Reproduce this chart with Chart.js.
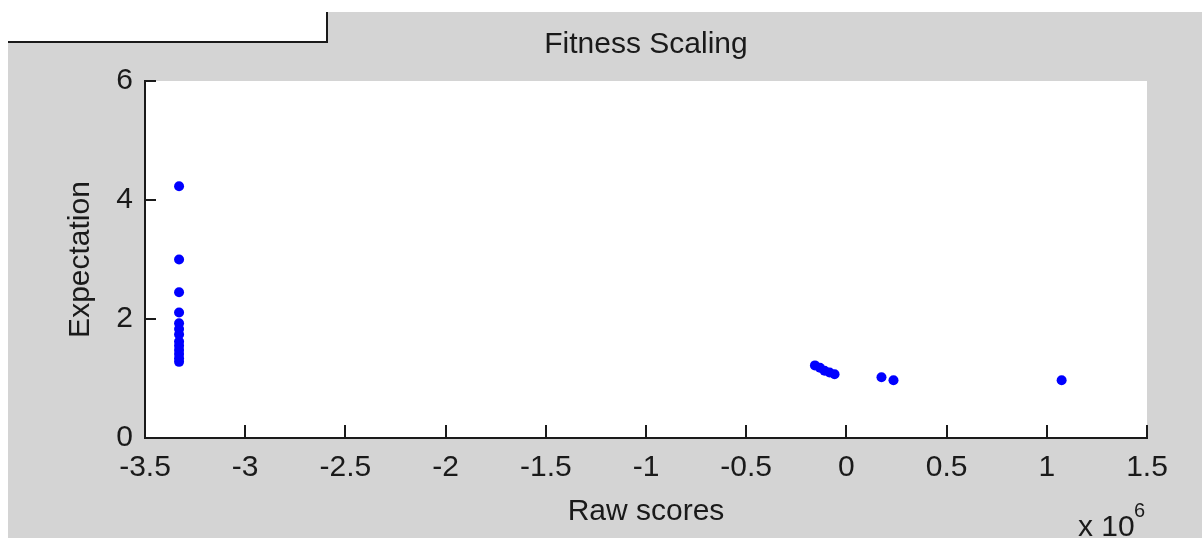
<!DOCTYPE html>
<html>
<head>
<meta charset="utf-8">
<title>Fitness Scaling</title>
<script src="https://cdn.jsdelivr.net/npm/chart.js@4.4.1/dist/chart.umd.min.js"></script>
<style>
    html, body { margin: 0; padding: 0; background: #ffffff; }
    canvas { display: block; }
</style>
</head>
<body>
<canvas id="fitness-chart" width="1202" height="538"></canvas>
<script>
// raw scores (plotted in units, axis shows x 10^6)
const rawScores = [
    -3330000, -3330000, -3330000, -3330000, -3330000, -3330000, -3330000,
    -3330000, -3330000, -3330000, -3330000, -3330000, -3330000,
    -157000, -132000, -109000, -84000, -59000,
    175000, 235000, 1074000
];
const expectation = [
    4.23, 3.0, 2.45, 2.11, 1.93, 1.83, 1.74,
    1.62, 1.55, 1.48, 1.41, 1.34, 1.28,
    1.22, 1.18, 1.13, 1.10, 1.07,
    1.02, 0.97, 0.97
];
const xTickRange = [-3500000, 1500000];
const xTickStep = 500000;
const yTickRange = [0, 6];
const yTickStep = 2;

const fontFamily = "'Liberation Sans', Arial, sans-serif";
const inkColor = '#1a1a1a';
const figureGray = '#d4d4d4';

// figure background + the stray panel edge at top left
const backgroundPlugin = {
    id: 'figureBackground',
    beforeDraw(chart) {
        const ctx = chart.ctx;
        const area = chart.chartArea;
        ctx.save();
        ctx.fillStyle = '#ffffff';
        ctx.fillRect(0, 0, chart.width, chart.height);
        ctx.fillStyle = figureGray;
        ctx.fillRect(8, 42, chart.width - 8, chart.height - 42);
        ctx.fillRect(327, 12, chart.width - 327, 31);
        ctx.strokeStyle = inkColor;
        ctx.lineWidth = 2;
        ctx.beginPath();
        ctx.moveTo(8, 42);
        ctx.lineTo(327, 42);
        ctx.lineTo(327, 12);
        ctx.stroke();
        // axes face
        ctx.fillStyle = '#ffffff';
        ctx.fillRect(area.left, area.top, area.right - area.left, area.bottom - area.top);
        ctx.restore();
    }
};

// inward tick marks like the original figure, plus the exponent label
const tickMarkPlugin = {
    id: 'inwardTicks',
    afterDraw(chart) {
        const ctx = chart.ctx;
        const area = chart.chartArea;
        const xScale = chart.scales.x;
        const yScale = chart.scales.y;
        ctx.save();
        ctx.strokeStyle = inkColor;
        ctx.lineWidth = 2;
        ctx.beginPath();
        xScale.ticks.forEach(t => {
            const px = Math.round(xScale.getPixelForValue(t.value));
            ctx.moveTo(px, area.bottom);
            ctx.lineTo(px, area.bottom - 13);
        });
        yScale.ticks.forEach(t => {
            const py = Math.round(yScale.getPixelForValue(t.value));
            ctx.moveTo(area.left, py);
            ctx.lineTo(area.left + 11, py);
        });
        ctx.stroke();

        ctx.fillStyle = inkColor;
        ctx.textBaseline = 'alphabetic';
        ctx.textAlign = 'left';
        ctx.font = '30px ' + fontFamily;
        ctx.fillText('x 10', 1078, 536);
        ctx.font = '20px ' + fontFamily;
        ctx.fillText('6', 1134, 517);
        ctx.restore();
    }
};

const ctx = document.getElementById('fitness-chart').getContext('2d');

new Chart(ctx, {
    type: 'scatter',
    data: {
        datasets: [{
            label: 'Expectation',
            data: rawScores.map((x, i) => ({ x: x, y: expectation[i] })),
            backgroundColor: '#0000ff',
            borderWidth: 0,
            pointRadius: 5,
            pointHoverRadius: 5
        }]
    },
    options: {
        responsive: false,
        animation: false,
        layout: {
            padding: { left: 0, right: 55, top: 0, bottom: 0 }
        },
        plugins: {
            legend: { display: false },
            tooltip: { enabled: false },
            title: {
                display: true,
                text: 'Fitness Scaling',
                fullSize: false,
                color: inkColor,
                font: { family: fontFamily, size: 30, weight: 'normal' },
                padding: { top: 27, bottom: 18 }
            }
        },
        scales: {
            x: {
                type: 'linear',
                min: xTickRange[0],
                max: xTickRange[1],
                afterFit: scale => { scale.height = 100; },
                grid: { display: false, drawTicks: false },
                border: { display: true, color: inkColor, width: 2 },
                ticks: {
                    stepSize: xTickStep,
                    padding: 12,
                    maxRotation: 0,
                    color: inkColor,
                    font: { family: fontFamily, size: 30 },
                    callback: value => String(Math.round(value / 100000) / 10)
                },
                title: {
                    display: true,
                    text: 'Raw scores',
                    color: inkColor,
                    font: { family: fontFamily, size: 30 },
                    padding: { top: 0, bottom: 8 }
                }
            },
            y: {
                type: 'linear',
                min: yTickRange[0],
                max: yTickRange[1],
                afterFit: scale => { scale.width = 145; },
                grid: { display: false, drawTicks: false },
                border: { display: true, color: inkColor, width: 2 },
                ticks: {
                    stepSize: yTickStep,
                    padding: 12,
                    color: inkColor,
                    font: { family: fontFamily, size: 30 }
                },
                title: {
                    display: true,
                    text: 'Expectation',
                    color: inkColor,
                    font: { family: fontFamily, size: 30 },
                    padding: { top: 63, bottom: 0 }
                }
            }
        }
    },
    plugins: [backgroundPlugin, tickMarkPlugin]
});
</script>
</body>
</html>
